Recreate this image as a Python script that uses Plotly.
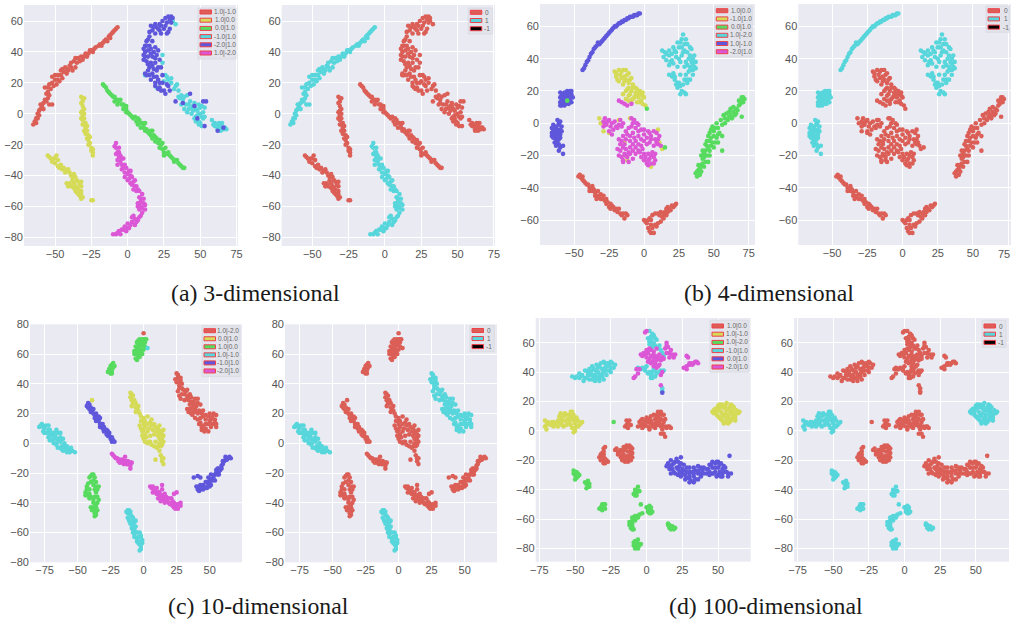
import plotly.graph_objects as go

W, H = 1011, 619
RED, YEL, GRN, CYN, BLU, MAG = "#DB5F57", "#D6DB57", "#57DB5F", "#57D6DB", "#5F57DB", "#DB57D6"

# ---------- (a) 3-dimensional ----------
A_ARC = [(-65,-7),(-63,-6),(-63,-3),(-64,-5),(-62,-3),(-61,-1),(-62,0),(-61,2),(-60,3),(-59,5),(-60,6),(-58,3),(-58,7),(-57,9),(-56,8),(-55,10),(-56,13),(-54,12),(-55,14),(-55,17),(-57,17),(-53,16),(-54,19),(-51,18),(-52,20),(-50,22),(-49,19),(-48,22),(-47,21),(-52,24),(-50,25),(-48,25),(-46,25),(-46,28),(-45,23),(-44,27),(-45,29),(-42,26),(-42,29),(-43,30),(-40,31),(-41,28),(-39,30),(-39,33),(-38,28),(-37,34),(-36,30),(-36,36),(-35,33),(-33,34),(-34,36),(-32,37),(-31,35),(-30,37),(-29,39),(-28,37),(-27,39),(-26,41),(-25,41),(-23,42),(-24,40),(-22,43),(-20,44),(-19,45),(-17,46),(-18,44),(-16,47),(-15,48),(-13,50),(-14,47),(-12,51),(-12,49),(-11,52),(-10,53),(-9,54),(-8,55),(-7,56),(-52,6),(-54,6)]
A_STRIPE = [(-32,11),(-30,10),(-31,10),(-31,8),(-32,7),(-31,5),(-30,3),(-31,2),(-32,1),(-30,0),(-31,-1),(-30,-3),(-32,-3),(-31,-4),(-30,-7),(-31,-7),(-29,-6),(-29,-9),(-28,-8),(-28,-11),(-30,-11),(-29,-13),(-27,-14),(-28,-16),(-26,-15),(-27,-17),(-26,-19),(-27,-20),(-25,-22),(-24,-23),(-24,-25),(-25,-24),(-24,-27)]
A_LOWER = [(-55,-27),(-54,-28),(-53,-29),(-52,-31),(-51,-29),(-50,-29),(-49,-27),(-50,-32),(-48,-30),(-48,-34),(-47,-35),(-46,-33),(-45,-36),(-44,-35),(-43,-38),(-42,-37),(-41,-36),(-40,-38),(-39,-40),(-38,-41),(-37,-39),(-36,-41),(-35,-43),(-38,-43),(-37,-45),(-40,-45),(-39,-47),(-41,-47),(-42,-45),(-34,-44),(-32,-44),(-33,-46),(-32,-47),(-36,-47),(-35,-48),(-34,-49),(-32,-50),(-36,-50),(-34,-52),(-32,-52),(-33,-53),(-31,-54),(-32,-55),(-35,-51),(-37,-48),(-25,-56),(-24,-56)]
A_GREEN = [(-17,19),(-16,18),(-15,17),(-14,15),(-13,14),(-12,13),(-11,12),(-10,11),(-9,11),(-9,8),(-8,9),(-7,9),(-6,8),(-5,9),(-7,6),(-4,6),(-3,6),(-2,5),(-1,5),(-3,3),(-1,3),(-1,1),(0,1),(1,0),(2,-1),(3,-2),(4,-3),(5,-2),(7,-3),(6,-5),(8,-4),(7,-7),(9,-6),(9,-9),(10,-6),(11,-7),(11,-9),(12,-6),(12,-11),(13,-10),(14,-12),(15,-13),(16,-11),(16,-14),(17,-11),(18,-14),(17,-16),(19,-15),(19,-18),(20,-16),(21,-19),(22,-17),(22,-22),(23,-20),(24,-19),(24,-23),(26,-22),(25,-25),(25,-27),(27,-26),(28,-25),(29,-27),(30,-28),(31,-29),(32,-31),(33,-30),(34,-30),(35,-32),(36,-33),(37,-34),(38,-35),(39,-35)]
A_MAGENTA = [(-8,-19),(-9,-21),(-8,-22),(-7,-25),(-8,-26),(-6,-22),(-6,-25),(-5,-27),(-6,-28),(-5,-31),(-7,-30),(-7,-33),(-3,-29),(-4,-29),(-4,-33),(-2,-33),(-4,-36),(-3,-35),(-2,-38),(-1,-35),(0,-39),(1,-37),(2,-37),(2,-40),(-2,-41),(0,-43),(1,-42),(3,-41),(2,-45),(3,-46),(4,-44),(5,-43),(5,-47),(6,-47),(7,-49),(6,-50),(4,-49),(8,-50),(10,-52),(8,-54),(9,-55),(11,-55),(9,-57),(7,-58),(11,-58),(12,-59),(8,-59),(7,-60),(9,-60),(10,-61),(12,-62),(10,-64),(8,-62),(9,-66),(8,-67),(7,-69),(5,-68),(4,-66),(6,-70),(3,-70),(3,-67),(5,-72),(2,-72),(0,-71),(0,-74),(1,-74),(-2,-73),(-1,-76),(-3,-75),(-4,-75),(-5,-78),(-6,-76),(-7,-77),(-8,-78),(-10,-78)]
A_CYAN = [(31,60),(33,58),(24,38),(24,33),(12,25),(20,17),(26,25),(27,24),(28,22),(25,21),(30,23),(30,20),(33,18),(34,19),(32,16),(35,15),(37,12),(35,11),(36,10),(39,11),(38,9),(41,12),(37,6),(40,6),(39,3),(43,8),(42,6),(46,7),(45,5),(44,4),(42,3),(41,1),(45,2),(44,0),(47,3),(48,2),(49,6),(50,4),(51,5),(53,4),(52,1),(50,0),(48,-1),(47,-2),(46,-3),(51,-2),(53,-2),(52,-3),(47,-5),(49,-5),(50,-6),(49,-7),(51,-8),(58,-4),(60,-6),(59,-7),(60,-8),(61,-8),(62,-7),(63,-6),(63,-9),(64,-8),(66,-10),(62,-10),(65,-6),(65,-10),(64,-11),(67,-9),(68,-10)]
A_BLUE = [(28,63),(30,63),(31,62),(26,62),(29,61),(30,59),(27,59),(24,60),(26,57),(23,57),(22,58),(19,58),(20,56),(18,56),(16,57),(17,54),(15,53),(21,55),(22,54),(25,55),(29,55),(28,53),(27,52),(23,52),(19,52),(15,50),(14,48),(13,47),(12,44),(15,44),(13,44),(17,47),(16,42),(19,43),(18,40),(21,41),(12,40),(14,41),(11,42),(11,38),(12,37),(14,37),(16,39),(17,37),(20,38),(19,36),(11,35),(13,34),(16,33),(14,32),(17,31),(19,33),(22,35),(15,30),(18,29),(21,30),(23,30),(20,28),(14,28),(12,26),(13,25),(15,25),(17,26),(18,24),(16,22),(20,24),(21,22),(24,25),(22,20),(19,20),(24,20),(19,18),(22,17),(21,16),(23,15),(25,15),(26,13),(27,19),(28,18),(29,15),(33,8),(38,7),(43,13),(46,5),(52,8),(54,8),(48,-3),(53,-8),(62,-11),(66,-9)]

# ---------- (b) 4-dimensional ----------
B_ARC = [(-44,33),(-43,34),(-42,36),(-41,38),(-40,39),(-39,41),(-38,43),(-37,44),(-36,46),(-35,47),(-34,48),(-33,50),(-32,49),(-31,50),(-30,51),(-29,52),(-28,53),(-27,54),(-26,55),(-25,56),(-24,57),(-23,58),(-22,59),(-21,60),(-20,60),(-19,61),(-18,62),(-17,62),(-16,63),(-15,63),(-14,64),(-13,64),(-12,65),(-11,65),(-10,66),(-9,66),(-8,66),(-7,67),(-6,67),(-5,67),(-4,68),(-3,68)]
B_SQUARE = [(-60,19),(-58,18),(-57,19),(-55,20),(-54,19),(-53,20),(-52,20),(-60,16),(-59,17),(-58,15),(-57,16),(-56,17),(-54,17),(-53,17),(-55,18),(-52,18),(-51,16),(-60,13),(-59,14),(-58,13),(-56,14),(-55,13),(-53,15),(-55,15),(-53,13),(-52,13),(-59,11),(-60,11),(-58,12),(-57,11),(-56,12),(-54,12)]
B_DROP = [(-62,2),(-60,1),(-61,0),(-61,-1),(-59,-2),(-63,-2),(-65,-1),(-66,-3),(-64,-4),(-62,-4),(-60,-4),(-65,-5),(-61,-5),(-59,-5),(-63,-6),(-66,-6),(-64,-7),(-62,-7),(-60,-7),(-66,-8),(-65,-9),(-64,-9),(-62,-9),(-60,-9),(-63,-10),(-61,-10),(-62,-11),(-64,-12),(-63,-12),(-61,-13),(-63,-14),(-60,-15),(-61,-17),(-58,-14),(-58,-19)]
B_CYAN = [(28,55),(27,52),(30,52),(26,50),(24,50),(29,49),(31,49),(33,47),(21,47),(25,47),(27,47),(23,44),(22,45),(28,44),(31,44),(29,45),(13,45),(15,44),(18,45),(16,43),(20,43),(18,42),(14,41),(34,46),(23,41),(27,42),(33,42),(36,42),(35,40),(32,40),(25,40),(16,39),(20,39),(19,38),(26,38),(30,38),(34,38),(37,38),(35,37),(21,37),(18,36),(31,36),(29,35),(33,35),(36,35),(37,34),(24,35),(32,32),(35,33),(33,33),(30,30),(21,31),(18,30),(20,29),(22,29),(26,30),(22,27),(25,25),(29,27),(33,27),(31,27),(26,23),(28,24),(24,25),(31,25),(23,24),(24,22),(27,20),(30,18),(29,19),(26,18),(35,30)]
B_YELLOW = [(-21,32),(-20,31),(-18,33),(-16,32),(-15,33),(-13,33),(-11,31),(-12,30),(-20,29),(-17,30),(-14,29),(-9,28),(-10,27),(-19,27),(-16,28),(-18,26),(-14,26),(-13,27),(-11,25),(-8,24),(-6,22),(-8,22),(-11,22),(-15,24),(-12,21),(-13,20),(-9,20),(-5,21),(-6,19),(-3,20),(-1,19),(-4,18),(-2,18),(-15,18),(-10,18),(-11,17),(-7,16),(-6,17),(-4,16),(-1,17),(0,16),(-2,14),(-5,13),(-3,13),(-9,14),(-8,15),(-11,14),(-13,15),(-1,12),(1,11),(-32,3),(-31,0),(-29,-5),(-25,-6),(-18,2),(-10,3),(10,-4),(-14,-12),(11,-12),(-14,-20),(-12,-23),(5,-27),(13,-16)]
B_MAGENTA = [(-18,14),(-16,13),(-14,12),(-12,11),(-9,12),(-28,3),(-29,1),(-28,0),(-26,1),(-25,2),(-23,0),(-24,-2),(-27,-1),(-29,-2),(-21,1),(-20,-2),(-19,-3),(-18,-1),(-15,0),(-22,-4),(-25,-5),(-23,-7),(-17,2),(-16,-2),(-9,3),(-8,0),(-7,2),(-5,0),(-9,-2),(-11,-3),(-6,-3),(-8,-6),(-4,-5),(-12,-7),(-13,-5),(-10,-8),(-7,-9),(-15,-8),(-18,-10),(-4,-1),(-2,-4),(0,-4),(3,-5),(0,-7),(-4,-8),(5,-8),(-14,-13),(-17,-13),(-16,-11),(-13,-10),(-10,-11),(-6,-11),(-2,-10),(2,-9),(4,-6),(7,-5),(9,-6),(11,-8),(10,-10),(8,-10),(5,-10),(0,-11),(4,-12),(9,-12),(2,-13),(-2,-14),(-4,-13),(-8,-13),(-6,-15),(-10,-15),(-13,-16),(-15,-15),(-17,-17),(-19,-16),(-14,-19),(-11,-18),(-10,-19),(-8,-17),(-6,-19),(-4,-17),(-3,-18),(-1,-16),(7,-14),(10,-13),(12,-14),(-18,-20),(-16,-21),(-13,-20),(-15,-23),(-12,-21),(-8,-22),(-11,-24),(-15,-24),(0,-19),(3,-19),(6,-18),(8,-19),(5,-20),(7,-21),(1,-21),(4,-22),(-2,-21),(0,-23),(3,-23),(8,-23),(2,-25),(5,-25),(7,-25),(3,-26)]
B_GREEN = [(38,-30),(39,-29),(40,-32),(41,-30),(37,-31),(38,-33),(40,-28),(41,-26),(42,-25),(39,-26),(43,-27),(44,-24),(46,-24),(42,-22),(43,-21),(45,-20),(41,-20),(47,-20),(43,-19),(44,-17),(46,-16),(47,-17),(42,-17),(50,-15),(44,-13),(45,-14),(48,-14),(47,-11),(45,-11),(49,-12),(51,-12),(53,-12),(46,-8),(48,-9),(50,-8),(52,-9),(53,-7),(47,-6),(50,-5),(48,-4),(51,-3),(54,-6),(56,-8),(49,-2),(52,0),(56,-1),(53,-3),(58,0),(55,2),(58,3),(60,2),(61,4),(57,5),(59,6),(62,5),(63,3),(65,5),(64,7),(61,7),(66,9),(62,9),(64,10),(67,8),(68,11),(69,12),(71,13),(68,14),(70,14),(72,15),(70,16),(71,16),(66,6),(70,4),(56,-17),(2,9),(15,-15)]
B_BAND = [(-47,-33),(-46,-32),(-45,-34),(-44,-35),(-43,-36),(-44,-33),(-42,-37),(-41,-38),(-40,-38),(-39,-40),(-39,-42),(-38,-41),(-37,-39),(-37,-42),(-36,-41),(-35,-43),(-35,-45),(-33,-42),(-34,-47),(-33,-45),(-32,-46),(-31,-44),(-31,-47),(-30,-47),(-29,-45),(-28,-48),(-27,-47),(-27,-50),(-26,-49),(-25,-52),(-24,-50),(-24,-53),(-23,-51),(-22,-52),(-21,-54),(-20,-53),(-19,-55),(-18,-53),(-17,-56),(-16,-57),(-15,-56),(-14,-59),(-13,-56),(-12,-57)]
B_LOOP = [(0,-60),(1,-61),(2,-62),(3,-60),(3,-65),(4,-67),(5,-68),(7,-68),(6,-65),(5,-63),(8,-63),(9,-64),(10,-62),(12,-61),(4,-59),(6,-57),(8,-56),(10,-56),(11,-57),(12,-55),(14,-56),(14,-59),(15,-55),(16,-53),(17,-55),(17,-52),(18,-53),(20,-51),(21,-52),(22,-51),(23,-50),(13,-58),(16,-57),(19,-54),(5,-60)]
B_SPECK = [(-55,14)]

# ---------- (c) 10-dimensional ----------
C_TOP = [(-3,70),(-4,69),(-1,70),(0,70),(1,70),(-5,68),(-2,68),(1,68),(2,70),(-4,67),(-1,66),(-6,65),(-3,65),(0,66),(1,65),(-4,64),(-6,62),(-5,63),(-3,62),(-2,63),(0,63),(-7,62),(-7,60),(-5,60),(-4,60),(-2,61),(-1,60),(-3,58),(-6,57),(-4,58),(-5,56)]
C_RED_DOT = [(0,74)]
C_CYAN_DOT = [(3,64)]
C_SMALL = [(-23,54),(-22,52),(-24,53),(-25,52),(-23,51),(-24,51),(-25,50),(-26,50),(-24,49),(-27,48),(-26,48),(-25,47),(-24,47)]
C_BIG = [(25,47),(26,46),(26,44),(24,43),(28,44),(27,41),(28,42),(25,41),(29,40),(27,39),(27,37),(26,35),(29,37),(30,36),(32,35),(33,36),(29,33),(31,33),(33,32),(27,32),(35,33),(36,31),(28,30),(31,29),(33,30),(34,29),(36,28),(38,28),(39,30),(41,30),(41,27),(43,26),(38,26),(40,25),(35,26),(37,24),(33,23),(35,23),(39,23),(36,20),(37,21),(39,21),(41,20),(42,22),(44,20),(45,22),(34,21),(47,19),(50,20),(53,20),(55,19),(37,19),(39,17),(41,16),(43,17),(45,18),(47,16),(49,18),(51,16),(52,18),(54,16),(50,15),(42,13),(43,14),(45,12),(47,13),(49,13),(51,13),(53,13),(54,14),(55,13),(44,11),(47,10),(51,11),(46,9),(46,8),(49,8),(55,11),(44,9)]
C_YELLOW = [(-10,34),(-9,33),(-8,32),(-10,31),(-9,29),(-7,29),(-8,27),(-7,27),(-6,27),(-9,25),(-6,24),(-4,25),(-5,23),(-4,22),(-6,21),(-3,20),(-2,18),(-2,15),(0,17),(1,15),(3,18),(5,14),(6,16),(8,13),(-3,12),(0,13),(3,13),(6,12),(9,11),(-2,10),(1,11),(4,10),(11,10),(0,9),(3,8),(7,9),(10,8),(12,7),(13,8),(15,9),(14,6),(8,6),(-1,8),(1,6),(-1,5),(2,4),(5,5),(11,5),(14,4),(0,3),(1,1),(3,0),(4,1),(5,1),(9,1),(12,3),(14,2),(15,1),(6,-1),(8,-2),(12,0),(14,-1),(13,-2),(11,-2),(10,-3),(12,-5),(13,-8),(15,-10),(14,-10),(14,-12),(15,-14),(9,-11),(15,5),(12,12)]
C_YELLOW_DOT = [(-39,29)]
C_DIAG = [(-42,27),(-41,26),(-43,25),(-42,24),(-41,23),(-40,21),(-39,22),(-38,23),(-38,20),(-36,20),(-37,19),(-37,17),(-36,18),(-35,17),(-34,18),(-33,17),(-34,15),(-33,13),(-32,13),(-31,13),(-31,10),(-33,11),(-30,11),(-29,9),(-28,9),(-30,8),(-27,8),(-28,6),(-26,7),(-26,5),(-27,5),(-25,3),(-24,4),(-24,1),(-23,2),(-22,1),(-40,24),(-36,15)]
C_LEFT = [(-79,11),(-78,12),(-77,13),(-76,11),(-75,10),(-74,12),(-72,12),(-76,8),(-75,7),(-73,7),(-72,9),(-71,9),(-70,7),(-71,5),(-72,4),(-69,6),(-68,7),(-67,5),(-66,9),(-65,7),(-63,7),(-68,4),(-66,3),(-65,3),(-64,2),(-71,2),(-69,2),(-68,0),(-66,0),(-66,-1),(-63,1),(-63,4),(-61,3),(-60,0),(-62,-2),(-63,-3),(-65,-3),(-60,-2),(-58,-2),(-61,-5),(-62,-4),(-60,-4),(-58,-4),(-56,-4),(-55,-3),(-56,-6),(-54,-5),(-52,-6),(-58,-6)]
C_MID = [(-24,-7),(-23,-8),(-22,-9),(-21,-10),(-20,-10),(-19,-12),(-18,-11),(-17,-12),(-16,-11),(-15,-12),(-14,-12),(-13,-13),(-12,-12),(-11,-13),(-10,-13),(-15,-14),(-13,-14),(-12,-14),(-16,-13),(-18,-13),(-10,-15),(-10,-17),(-14,-9),(-9,-13)]
C_MAGRIGHT = [(5,-29),(6,-30),(7,-29),(8,-31),(9,-31),(10,-30),(7,-33),(9,-33),(10,-34),(11,-33),(12,-33),(12,-35),(14,-31),(14,-35),(15,-36),(16,-34),(11,-37),(13,-37),(15,-38),(13,-39),(17,-36),(17,-38),(19,-37),(16,-40),(18,-39),(19,-40),(21,-37),(22,-39),(20,-41),(22,-42),(23,-40),(24,-41),(25,-42),(26,-41),(27,-41),(28,-40),(28,-42),(23,-43),(24,-44),(26,-44),(14,-28),(25,-33),(23,-34)]
C_HOOK = [(41,-31),(42,-32),(40,-29),(43,-31),(44,-30),(45,-31),(42,-29),(43,-28),(45,-28),(46,-29),(47,-30),(48,-30),(49,-28),(50,-29),(51,-28),(47,-26),(48,-26),(50,-26),(50,-25),(52,-25),(51,-24),(53,-24),(49,-23),(53,-22),(54,-21),(55,-20),(56,-21),(51,-21),(55,-18),(56,-17),(57,-17),(58,-18),(57,-19),(59,-17),(59,-15),(60,-14),(60,-12),(61,-12),(62,-11),(63,-11),(64,-10),(65,-9),(66,-10),(62,-9),(57,-21),(54,-25),(38,-23),(41,-22),(43,-23)]
C_GREEN = [(-39,-21),(-40,-22),(-38,-21),(-41,-23),(-37,-23),(-38,-25),(-36,-26),(-40,-26),(-42,-27),(-43,-29),(-41,-31),(-38,-28),(-36,-29),(-34,-29),(-43,-31),(-37,-31),(-35,-31),(-44,-33),(-42,-35),(-41,-34),(-43,-34),(-44,-35),(-36,-33),(-41,-37),(-40,-36),(-38,-38),(-37,-36),(-35,-36),(-34,-38),(-38,-40),(-35,-40),(-36,-41),(-38,-43),(-36,-43),(-40,-43),(-39,-45),(-37,-44),(-35,-45),(-36,-46),(-37,-47),(-36,-48),(-37,-49)]
C_LOW = [(-13,-46),(-12,-45),(-11,-45),(-12,-47),(-10,-46),(-10,-48),(-12,-50),(-9,-49),(-8,-50),(-11,-52),(-9,-52),(-7,-53),(-6,-52),(-10,-54),(-8,-55),(-9,-57),(-6,-56),(-7,-58),(-8,-58),(-8,-60),(-6,-60),(-5,-60),(-3,-60),(-7,-61),(-7,-63),(-5,-64),(-4,-63),(-3,-63),(-2,-62),(-2,-63),(-5,-66),(-3,-66),(-4,-67),(-1,-65),(-1,-67),(-3,-68),(-2,-69),(-2,-71),(-3,-72)]

# ---------- (d) 100-dimensional ----------
D_WIDE = [(-52,37),(-50,36),(-49,37),(-47,36),(-46,37),(-47,39),(-45,38),(-44,34),(-43,36),(-42,36),(-41,38),(-40,38),(-43,41),(-41,40),(-40,42),(-39,40),(-38,44),(-37,42),(-37,36),(-36,41),(-36,38),(-38,38),(-35,36),(-34,40),(-34,43),(-33,34),(-36,34),(-38,35),(-33,36),(-33,38),(-31,42),(-31,39),(-30,40),(-29,43),(-28,38),(-30,35),(-33,44),(-28,41),(-26,41),(-26,44),(-25,43),(-27,46),(-29,46),(-25,47),(-24,46),(-32,46),(-30,47),(-23,43),(-22,45),(-28,44),(-25,40),(-31,37),(-40,35),(-35,45)]
D_CYANTOP = [(2,68),(4,66),(5,65),(3,64),(1,63),(3,62),(6,63),(5,60),(7,62),(2,61),(4,60),(2,59),(4,57),(6,58),(8,56),(9,58),(10,55),(11,53),(12,51),(0,44),(-1,43),(-3,43),(-4,42),(-6,43),(-1,41),(2,40),(1,39),(4,40),(3,38),(6,41),(5,37),(6,37),(7,39),(9,40),(10,41),(5,42),(3,36),(4,36),(12,41),(11,27),(11,29)]
D_MAGTOP = [(0,68),(-1,67),(2,56),(-2,53),(-1,52),(0,55),(1,53),(3,55),(5,54),(5,52),(7,56),(-4,52),(-3,51),(0,50),(3,51),(6,50),(8,51),(9,52),(2,49),(5,49),(8,49),(11,50),(1,47),(4,47),(7,48),(10,48),(12,49),(3,46),(6,46),(9,45),(5,44),(8,44),(7,43),(13,56),(14,60),(14,58),(15,57),(17,55),(16,53),(14,53),(18,52),(20,52),(16,50),(19,50),(-7,42),(-6,39),(-9,36),(-8,37),(-5,42),(11,40),(10,38),(10,31),(28,51),(29,50),(26,43),(27,43),(28,44),(30,45),(30,46),(32,45),(33,46),(34,47),(35,47),(36,46),(28,42),(31,46)]
D_YELLEFT = [(-71,7),(-71,3),(-70,4),(-70,1),(-69,6),(-68,5),(-67,4),(-66,6),(-65,6),(-64,5),(-65,3),(-63,4),(-62,6),(-62,7),(-62,3),(-60,5),(-59,4),(-58,3),(-59,7),(-60,8),(-61,10),(-60,12),(-58,10),(-57,12),(-57,7),(-56,11),(-54,11),(-53,13),(-52,13),(-53,10),(-51,11),(-55,8),(-52,8),(-50,8),(-51,7),(-49,9),(-48,7),(-54,6),(-45,6),(-46,5),(-50,5),(-47,4),(-48,3),(-53,4),(-55,5),(-56,4),(-52,2),(-50,2),(-50,0),(-51,-1),(-49,3)]
D_YELRIGHT = [(46,13),(47,12),(47,14),(48,15),(49,13),(50,15),(50,17),(51,18),(52,16),(53,18),(54,16),(55,17),(56,19),(59,18),(58,16),(60,17),(61,16),(60,14),(63,14),(65,13),(64,12),(62,11),(61,12),(59,13),(57,14),(55,15),(52,13),(55,12),(53,11),(49,11),(50,10),(51,9),(52,8),(54,10),(57,11),(57,9),(56,8),(60,11),(60,9),(59,7),(62,9),(62,7),(58,6),(57,5),(55,6),(54,5),(53,7)]
D_REDMID = [(-14,7),(-12,7),(-13,5),(-14,4),(-15,3),(-13,2),(-11,4),(-5,6),(-4,7),(-4,4),(-6,3),(-3,8),(-2,5),(-3,2),(-2,3),(-1,7),(-1,4),(0,9),(1,6),(1,3),(2,1),(2,8),(3,5),(3,10),(3,7),(4,3),(5,11),(5,5),(6,2),(6,4),(6,8),(7,6),(7,9),(7,11),(8,13),(8,9),(8,4),(9,11),(9,6),(10,13),(10,8),(10,3),(11,4),(11,1),(11,11),(12,11),(12,6),(13,8),(13,3),(14,2),(15,3),(16,3),(17,2),(10,-2),(12,-2),(13,-4)]
D_REDHOOK = [(-29,-11),(-30,-12),(-30,-14),(-31,-15),(-30,-16),(-32,-16),(-31,-17),(-33,-18),(-30,-18),(-32,-20),(-31,-20),(-29,-19),(-28,-20),(-27,-21),(-30,-22),(-29,-22)]
D_REDRING = [(-22,-13),(-21,-12),(-20,-14),(-19,-15),(-18,-13),(-17,-14),(-16,-11),(-15,-11),(-14,-10),(-13,-11),(-12,-10),(-11,-11),(-10,-12),(-11,-13),(-10,-15),(-11,-16),(-10,-18),(-12,-18),(-11,-20),(-12,-20),(-13,-21),(-14,-20),(-15,-21),(-16,-20),(-17,-20),(-18,-18),(-17,-17),(-16,-16),(-15,-18),(-13,-17),(-14,-19),(-16,-18),(-20,-16),(-13,-14),(-15,-13)]
D_BLUE = [(17,-20),(19,-22),(18,-23),(21,-19),(20,-21),(22,-21),(16,-24),(14,-24),(15,-22),(18,-26),(16,-26),(21,-25),(23,-24),(24,-22),(26,-23),(17,-29),(19,-28),(20,-29),(22,-26),(23,-28),(25,-26),(26,-27),(25,-29),(28,-25),(28,-28),(22,-30),(24,-28),(24,-31),(27,-30),(30,-28),(30,-25),(32,-28),(33,-25),(34,-27),(36,-24),(36,-27),(38,-25),(28,-32),(30,-32),(30,-30),(33,-31),(33,-29),(36,-29),(39,-27),(40,-25),(42,-26),(43,-26),(40,-29),(38,-29),(30,-35),(33,-35),(31,-34),(34,-33),(36,-33),(38,-31),(27,-33),(44,-23),(45,-23),(46,-21),(48,-22),(49,-21),(50,-21),(52,-22),(46,-25),(48,-25),(50,-25),(51,-23),(53,-26),(54,-24),(55,-25),(44,-28),(44,-30),(46,-29),(47,-29),(48,-28),(50,-30),(51,-28),(53,-29),(54,-28),(56,-28),(57,-29),(59,-29),(57,-31),(53,-31),(52,-31),(49,-31),(24,-18),(58,-17),(42,-29),(11,26)]
D_GREEN = [(-51,-27),(-51,-29),(-50,-30),(-49,-28),(-49,-30),(-48,-29),(-48,-31),(-49,-32),(-50,-33),(-47,-30),(-43,-35),(-42,-36),(-41,-37),(-41,-36),(-42,-39),(-40,-38),(-40,-36),(-41,-34),(-32,-52),(-31,-52),(-30,-50),(-31,-50),(-31,-54),(-30,-52),(-29,-50),(-33,-53),(-29,-53),(-8,-40),(-6,-41),(-5,-41),(-9,-43),(-8,-42),(-7,-42),(-8,-44),(-7,-44),(-6,-38),(-4,-50),(1,-53),(3,-54),(2,-56),(1,-55),(3,-56),(4,-55),(0,-52),(1,-52),(3,-52),(2,-51),(-9,-59),(-8,-58),(-7,-58),(-6,-59),(-5,-57),(-10,-59),(-9,-60),(-10,-61),(-8,-61),(-10,-63),(-11,-64),(-12,-62),(-10,-65),(-11,-66),(-9,-67),(-10,-67),(-12,-64),(-3,-56),(15,-64),(16,-64),(17,-65),(16,-65),(19,-67),(18,-66),(17,-67),(16,-66),(18,-65),(15,-63),(19,-66),(20,-66),(-8,-75),(-9,-76),(-7,-75),(-7,-77),(-8,-77),(-6,-77),(-9,-78),(-8,-78),(-6,-74),(-8,-80),(-7,-79),(-6,-80),(-5,-78),(-4,-77)]
D_GREEN_DOT = [(-23,6)]

# cluster, colour in the left panel, colour in the right panel
GROUPS_A = [(A_ARC,RED,CYN),(A_STRIPE,YEL,RED),(A_LOWER,YEL,RED),(A_GREEN,GRN,RED),(A_MAGENTA,MAG,CYN),(A_CYAN,CYN,RED),(A_BLUE,BLU,RED)]
GROUPS_B = [(B_ARC,BLU,CYN),(B_SQUARE,BLU,CYN),(B_SPECK,GRN,CYN),(B_DROP,BLU,CYN),(B_CYAN,CYN,CYN),(B_YELLOW,YEL,RED),(B_MAGENTA,MAG,RED),(B_GREEN,GRN,RED),(B_BAND,RED,RED),(B_LOOP,RED,RED)]
GROUPS_C = [(C_TOP,GRN,RED),(C_RED_DOT,RED,RED),(C_CYAN_DOT,CYN,RED),(C_SMALL,GRN,RED),(C_BIG,RED,CYN),(C_YELLOW,YEL,RED),(C_DIAG,BLU,RED),(C_YELLOW_DOT,YEL,RED),(C_LEFT,CYN,CYN),(C_MID,MAG,RED),(C_MAGRIGHT,MAG,RED),(C_HOOK,BLU,RED),(C_GREEN,GRN,RED),(C_LOW,CYN,CYN)]
GROUPS_D = [(D_WIDE,CYN,RED),(D_CYANTOP,CYN,RED),(D_MAGTOP,MAG,RED),(D_YELLEFT,YEL,CYN),(D_YELRIGHT,YEL,CYN),(D_REDMID,RED,RED),(D_REDHOOK,RED,RED),(D_REDRING,RED,RED),(D_BLUE,BLU,RED),(D_GREEN,GRN,CYN),(D_GREEN_DOT,GRN,RED)]

LEG_A = ["1.0|-1.0","1.0|0.0","0.0|1.0","-1.0|1.0","-2.0|1.0","1.0|-2.0"]
LEG_B = ["1.0|0.0","-1.0|1.0","0.0|1.0","1.0|-2.0","1.0|-1.0","-2.0|1.0"]
LEG_C = ["1.0|-2.0","0.0|1.0","1.0|0.0","1.0|-1.0","-1.0|1.0","-2.0|1.0"]
LEG_D = ["1.0|0.0","1.0|-1.0","1.0|-2.0","-1.0|1.0","0.0|1.0","-2.0|1.0"]
LEG_RIGHT = ["0","1","-1"]
LEG_COLORS_LEFT = [RED, YEL, GRN, CYN, BLU, MAG]
LEG_COLORS_RIGHT = [RED, CYN, "#000000"]

TICKS_X = [-75, -50, -25, 0, 25, 50, 75]
TICKS_Y = [-80, -60, -40, -20, 0, 20, 40, 60, 80]
CAPTIONS = [("(a) 3-dimensional",255,292.5),("(b) 4-dimensional",768.5,292.5),("(c) 10-dimensional",258,605.5),("(d) 100-dimensional",765.5,605.5)]

# px box (x0,x1,y0,y1), x range, y range, legend box (x0,x1,y0,y1), row centres, text centre
PANELS = [
 (GROUPS_A,1,(24,238,5,246),(-71.4,76),(-85.6,70.4),(198,236,8,59),12,8.2,225,LEG_A),
 (GROUPS_A,2,(281.7,495,5,246),(-71,75.7),(-85.6,70.4),(468.3,492.7,8,34),12.3,8.2,487,LEG_RIGHT),
 (GROUPS_B,1,(540,755,4,245),(-74.5,79.5),(-75.5,73.9),(714.3,752.3,6,57),10.7,8.2,741,LEG_B),
 (GROUPS_B,2,(798.3,1011,4,245),(-74,77),(-75.5,73.9),(986,1009.3,6,32.3),10.7,8.2,1005.7,LEG_RIGHT),
 (GROUPS_C,1,(30,242,324.3,562.3),(-86,74.5),(-80,80),(202,240,325.7,376.7),330.7,8.05,228.3,LEG_C),
 (GROUPS_C,2,(285,497,324.3,562.3),(-86,74.5),(-80,80),(470,494.3,325.7,351.7),330.5,8.05,489.3,LEG_RIGHT),
 (GROUPS_D,1,(535.7,750.7,318,561.7),(-77.5,72.8),(-89,76.8),(710,748.7,320.3,372.3),326,8.2,736.7,LEG_D),
 (GROUPS_D,2,(794,1009,318,561.7),(-77.5,73.3),(-89,76.8),(982,1006,320.3,347.3),326,8.2,1001.3,LEG_RIGHT),
]

TICK_FONT = dict(family="Liberation Sans, Arial, sans-serif", size=11, color="#555555")

fig = go.Figure()
shapes, annotations = [], []
px = lambda x: x / W
py = lambda y: 1 - y / H
layout_axes = {}

for i, (groups, col, box, xr, yr, lbox, row0, rowstep, tx, labels) in enumerate(PANELS, start=1):
    xname, yname = f"x{i}", f"y{i}"
    for pts, c_left, c_right in groups:
        fig.add_trace(go.Scatter(
            x=[p[0] for p in pts], y=[p[1] for p in pts], mode="markers",
            xaxis=xname, yaxis=yname, showlegend=False, hoverinfo="skip", cliponaxis=True,
            marker=dict(size=4.6, color=c_left if col == 1 else c_right, line=dict(width=0)),
        ))
    common = dict(showgrid=True, gridcolor="#FFFFFF", gridwidth=1, zeroline=False, ticks="",
                  showline=False, automargin=False, tickfont=TICK_FONT)
    layout_axes[f"xaxis{i}"] = dict(domain=[px(box[0]), px(box[1])], range=list(xr), anchor=yname,
                                    tickmode="array", tickvals=TICKS_X, **common)
    layout_axes[f"yaxis{i}"] = dict(domain=[py(box[3]), py(box[2])], range=list(yr), anchor=xname,
                                    tickmode="array", tickvals=TICKS_Y, **common)
    # legend drawn as box, swatches and text
    shapes.append(dict(type="rect", xref="paper", yref="paper", layer="above",
                       x0=px(lbox[0]), x1=px(lbox[1]), y0=py(lbox[3]), y1=py(lbox[2]),
                       fillcolor="#E3E3EB", line=dict(color="#D8D8E0", width=0.8)))
    colors = LEG_COLORS_LEFT if col == 1 else LEG_COLORS_RIGHT
    for r, (lab, c) in enumerate(zip(labels, colors)):
        yc = row0 + r * rowstep
        shapes.append(dict(type="rect", xref="paper", yref="paper", layer="above",
                           x0=px(lbox[0] + 2), x1=px(lbox[0] + 13.5), y0=py(yc + 2), y1=py(yc - 2),
                           fillcolor=c, line=dict(color="#F0404A", width=1)))
        annotations.append(dict(text=lab, xref="paper", yref="paper", x=px(tx), y=py(yc),
                                xanchor="center", yanchor="middle", showarrow=False,
                                font=dict(family="Liberation Sans, Arial, sans-serif", size=6.5, color="#666666")))

# the last tick label of panel (b) right sits against the page edge
annotations.append(dict(text="75", xref="paper", yref="paper", x=1.0, y=py(254), xanchor="right",
                        yanchor="middle", showarrow=False, font=TICK_FONT, borderpad=0))

for text, cx, cy in CAPTIONS:
    annotations.append(dict(text=text, xref="paper", yref="paper", x=px(cx), y=py(cy),
                            xanchor="center", yanchor="middle", showarrow=False,
                            font=dict(family="Liberation Serif, Times New Roman, serif", size=23.8, color="#1a1a1a")))

fig.update_layout(width=W, height=H, margin=dict(l=0, r=0, t=0, b=0), paper_bgcolor="#FFFFFF",
                  plot_bgcolor="#EAEAF2", shapes=shapes, annotations=annotations, **layout_axes)
fig.write_html("out.html", post_script="document.body.style.margin='0';document.body.style.overflow='hidden';",
               config={"displayModeBar": False})
